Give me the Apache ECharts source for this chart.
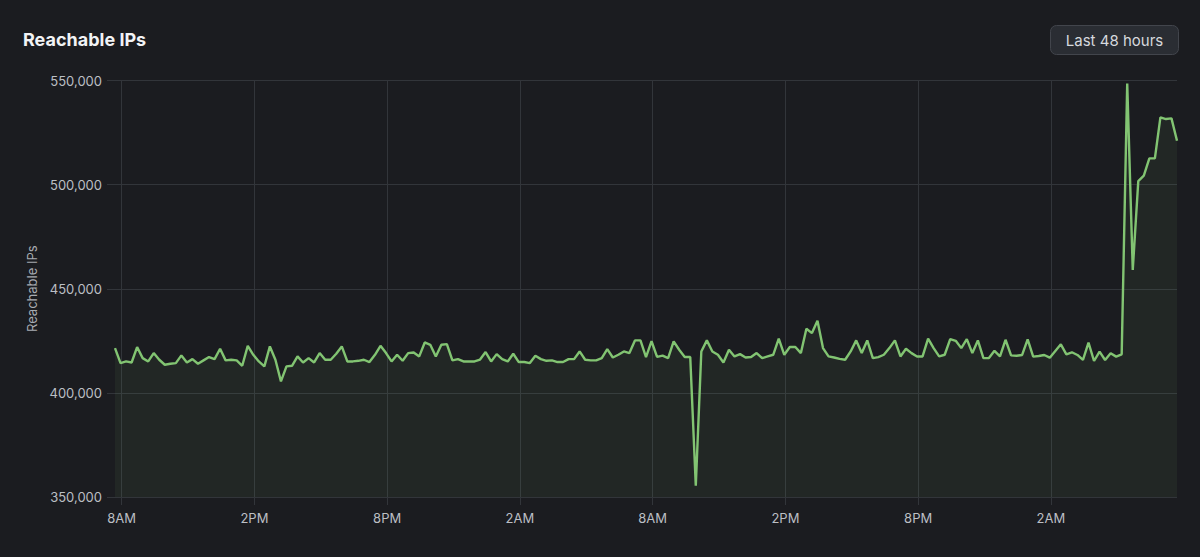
<!DOCTYPE html>
<html>
<head>
<meta charset="utf-8">
<script src="https://cdn.jsdelivr.net/npm/echarts@6/dist/echarts.min.js"></script>
<style>
html,body{margin:0;padding:0;background:#1b1c20;}
#chart{width:1200px;height:557px;}
</style>
</head>
<body>
<div id="chart"></div>
<script>
// Time grid: one reading every 15 minutes, first reading at 7:42 AM (x in minutes since first reading)
const stepMinutes = 15;
const firstTickMinute = 18;          // 8:00 AM is 18 minutes after the first reading
const tickStepMinutes = 360;         // labels every 6 hours
const tickLabels = ['8AM', '2PM', '8PM', '2AM', '8AM', '2PM', '8PM', '2AM'];
const yTicks = [350000, 400000, 450000, 500000, 550000];

const reachableIPs = [
  421500, 414300, 415100, 414600, 422000, 416700, 415100, 419100, 415900, 413500,
  414000, 414300, 418000, 414600, 416200, 414000, 415600, 417200, 416200, 421200,
  415600, 415900, 415600, 413000, 422600, 418300, 415100, 412700, 422300, 415900,
  405500, 412700, 413000, 417500, 414600, 416700, 414600, 419100, 415900, 415900,
  418800, 422300, 415100, 415100, 415400, 415900, 414800, 418300, 422600, 419100,
  415100, 418300, 415400, 419100, 419400, 417500, 424200, 423100, 417500, 423100,
  423400, 415600, 416200, 415100, 415100, 415100, 416000, 419600, 415100, 418600,
  416200, 415100, 418800, 414800, 414800, 414300, 417800, 416200, 415400, 415600,
  414800, 414800, 416200, 416200, 419900, 415900, 415600, 415600, 416700, 421000,
  417000, 418300, 419900, 419100, 425200, 425200, 417200, 424800, 417300, 417900,
  416700, 424700, 420700, 417200, 417200, 355400, 419900, 425200, 419900, 418300,
  414600, 420700, 417500, 418600, 417000, 417200, 419100, 416700, 417500, 418300,
  426100, 418300, 422000, 422000, 419100, 430800, 428700, 434600, 421500, 417500,
  417000, 416300, 415900, 419900, 425200, 419100, 425200, 416700, 417200, 418300,
  421500, 425200, 417500, 421200, 419100, 417500, 417500, 426000, 421500, 417500,
  418300, 425800, 425000, 421500, 425800, 419100, 425200, 416700, 416700, 420200,
  417500, 425500, 418000, 417800, 418200, 425700, 417400, 417700, 418200, 416900,
  420100, 423300, 418500, 419500, 418200, 415800, 424100, 415300, 419800, 415800,
  419000, 417400, 418500, 548600, 459000, 501700, 504300, 512600, 512600, 532300,
  531500, 531800, 521100
];

const seriesData = reachableIPs.map((v, i) => [i * stepMinutes, v]);
const tickValues = tickLabels.map((_, k) => firstTickMinute + k * tickStepMinutes);

const gridColor = '#32353a';
const labelColor = '#bcbfc4';
const fontFamily = 'Inter, "Noto Sans", sans-serif';

const chart = echarts.init(document.getElementById('chart'), null, { renderer: 'svg' });
chart.setOption({
  backgroundColor: '#1b1c20',
  animation: false,
  title: {
    text: 'Reachable IPs',
    left: 18,
    top: 25,
    textStyle: { color: '#f2f3f5', fontSize: 18, fontWeight: 'bold', fontFamily: fontFamily }
  },
  graphic: [{
    type: 'group',
    left: 1050,
    top: 25,
    children: [
      {
        type: 'rect',
        shape: { x: 0, y: 0, width: 128, height: 29, r: 6 },
        style: { fill: '#2a2d33', stroke: '#42454c', lineWidth: 1 }
      },
      {
        type: 'text',
        x: 64,
        y: 14.5,
        style: {
          text: 'Last 48 hours',
          fill: '#d6d9de',
          fontSize: 15,
          fontFamily: fontFamily,
          align: 'center',
          verticalAlign: 'middle'
        }
      }
    ]
  }],
  grid: { left: 115, right: 23, top: 80.5, bottom: 60, containLabel: false },
  xAxis: {
    type: 'value',
    min: seriesData[0][0],
    max: seriesData[seriesData.length - 1][0],
    axisLine: { show: false },
    axisTick: {
      show: true, length: 8, customValues: tickValues,
      lineStyle: { color: gridColor, width: 1 }
    },
    axisLabel: {
      customValues: tickValues,
      color: labelColor,
      fontSize: 13,
      fontFamily: fontFamily,
      margin: 14,
      formatter: function (value) {
        const k = Math.round((value - firstTickMinute) / tickStepMinutes);
        return tickLabels[k] || '';
      }
    },
    splitLine: { show: true, lineStyle: { color: gridColor, width: 1 } }
  },
  yAxis: {
    type: 'value',
    min: yTicks[0],
    max: yTicks[yTicks.length - 1],
    interval: 50000,
    name: 'Reachable IPs',
    nameLocation: 'middle',
    nameGap: 73,
    nameRotate: 90,
    nameTextStyle: { color: '#a8abb1', fontSize: 13, fontFamily: fontFamily },
    axisLine: { show: false },
    axisTick: { show: true, length: 8, lineStyle: { color: gridColor } },
    axisLabel: {
      color: labelColor,
      fontSize: 13,
      fontFamily: fontFamily,
      margin: 13,
      formatter: function (v) { return v.toLocaleString('en-US'); }
    },
    splitLine: { show: true, lineStyle: { color: gridColor, width: 1 } }
  },
  series: [{
    type: 'line',
    data: seriesData,
    showSymbol: false,
    smooth: false,
    lineStyle: { color: '#82c472', width: 2.4 },
    itemStyle: { color: '#82c472' },
    areaStyle: { color: 'rgba(130,196,114,0.095)' }
  }]
});
</script>
</body>
</html>
